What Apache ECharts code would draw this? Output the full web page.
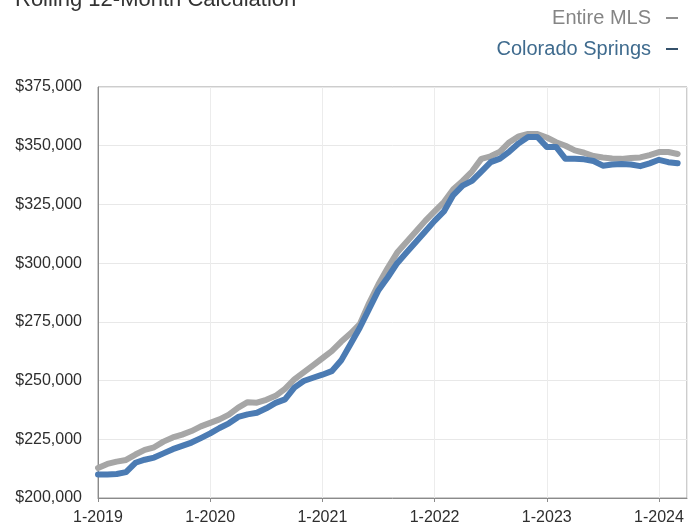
<!DOCTYPE html>
<html>
<head>
<meta charset="utf-8">
<title>Median Sales Price – Rolling 12-Month Calculation</title>
<script src="https://cdn.jsdelivr.net/npm/echarts@6/dist/echarts.min.js"></script>
<style>
  html, body { margin: 0; padding: 0; background: #ffffff; }
  #chart { width: 700px; height: 529px; }
</style>
</head>
<body>
<div id="chart"></div>
<script>
// Monthly points, January 2019 through March 2024 (rolling 12-month median price)
const startYear = 2019;
const monthCount = 63;

const yearTickLabels = ['1-2019', '1-2020', '1-2021', '1-2022', '1-2023', '1-2024'];

const entireMls = [
  212800, 214500, 215500, 216200, 218500, 220500, 221600, 224000, 225800, 227000, 228500, 230500,
  232000, 233500, 235500, 238500, 240800, 240600, 241800, 243500, 246500, 250500, 253500, 256500,
  259500, 262500, 266500, 270000, 274000, 283000, 291000, 298000, 304500, 309000, 313500, 318000,
  322000, 326000, 331500, 335000, 339000, 344400, 345500, 347500, 351500, 354000, 355000, 355000,
  353500, 351500, 350000, 348000, 347000, 345600, 345000, 344600, 344400, 344800, 345000, 346000,
  347300, 347300, 346500
];

const coloradoSprings = [
  210000, 210000, 210200, 211000, 215000, 216300, 217200, 219000, 220800, 222200, 223600, 225500,
  227500, 229800, 231800, 234500, 235600, 236300, 238200, 240500, 242000, 247000, 249800, 251200,
  252500, 254000, 258500, 265500, 272500, 280500, 288500, 294000, 300000, 304500, 309000, 313500,
  318000, 322000, 329000, 333000, 335000, 339000, 343000, 344500, 347500, 351000, 353700, 353700,
  349500, 349500, 344400, 344400, 344200, 343500, 341500, 342000, 342200, 342000, 341300, 342500,
  344000, 343000, 342500
];

const monthIndex = Array.from({ length: monthCount }, (_, i) => i);
const toPairs = values => monthIndex.map(i => [i, values[i]]);

const chart = echarts.init(document.getElementById('chart'), null, { renderer: 'canvas' });

const baseFont = '"Liberation Sans", Arial, Helvetica, sans-serif';

chart.setOption({
  backgroundColor: '#ffffff',
  animation: false,
  textStyle: { fontFamily: baseFont },
  graphic: [{
    type: 'text',
    left: 15,
    top: -11,
    style: {
      text: 'Rolling 12-Month Calculation',
      fill: '#333333',
      font: '22px ' + baseFont
    }
  }],
  legend: {
    orient: 'vertical',
    right: 17,
    top: 3,
    align: 'right',
    icon: 'rect',
    itemWidth: 12,
    itemHeight: 2,
    itemGap: 11,
    selectedMode: false,
    textStyle: { fontSize: 20, fontFamily: baseFont, padding: [0, 10, 0, 0] },
    data: [
      { name: 'Entire MLS', textStyle: { color: '#858585' }, itemStyle: { color: '#8f8f8f' } },
      { name: 'Colorado Springs', textStyle: { color: '#3f6b8e' }, itemStyle: { color: '#34506a' } }
    ]
  },
  grid: {
    left: 98,
    right: 13,
    top: 87,
    bottom: 31,
    show: true,
    borderColor: '#9a9a9a',
    borderWidth: 1
  },
  xAxis: {
    type: 'value',
    min: 0,
    max: monthCount,
    interval: 12,
    axisLine: { show: true, lineStyle: { color: '#8a8a8a', width: 1 } },
    axisTick: { show: true, length: 4, lineStyle: { color: '#8a8a8a' } },
    splitLine: { show: true, lineStyle: { color: '#ececec', width: 1 } },
    axisLabel: {
      color: '#2e2e2e',
      fontSize: 16,
      margin: 12,
      showMaxLabel: false,
      formatter: v => yearTickLabels[Math.round(v / 12)] || ''
    }
  },
  yAxis: {
    type: 'value',
    min: 200000,
    max: 375000,
    interval: 25000,
    axisLine: { show: true, lineStyle: { color: '#8a8a8a', width: 1 } },
    axisTick: { show: false },
    splitLine: { show: true, lineStyle: { color: '#e8e8e8', width: 1 } },
    axisLabel: {
      color: '#2e2e2e',
      fontSize: 16,
      margin: 16,
      formatter: v => '$' + v.toLocaleString('en-US')
    }
  },
  series: [
    {
      name: 'Entire MLS',
      type: 'line',
      data: toPairs(entireMls),
      showSymbol: false,
      smooth: false,
      lineStyle: { color: '#a6a6a6', width: 6, join: 'round', cap: 'round' },
      itemStyle: { color: '#a6a6a6' },
      z: 2
    },
    {
      name: 'Colorado Springs',
      type: 'line',
      data: toPairs(coloradoSprings),
      showSymbol: false,
      smooth: false,
      lineStyle: { color: '#4b7bb3', width: 6, join: 'round', cap: 'round' },
      itemStyle: { color: '#4b7bb3' },
      z: 3
    }
  ]
});
</script>
</body>
</html>
